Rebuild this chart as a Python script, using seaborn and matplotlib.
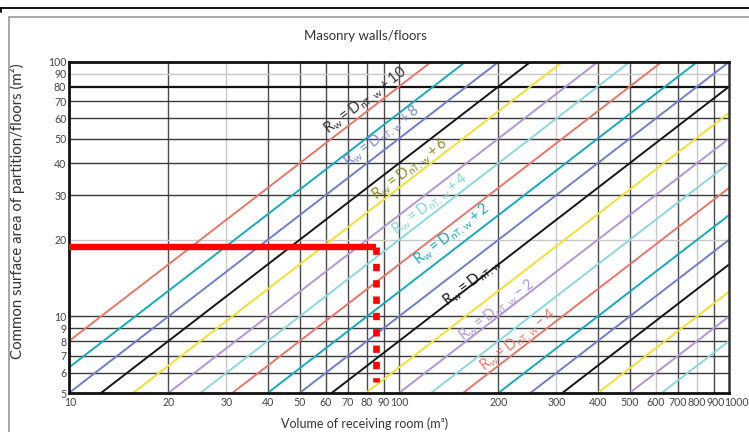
import numpy as np
import pandas as pd
import matplotlib
matplotlib.use("Agg")
import matplotlib.pyplot as plt
import matplotlib.ticker as mticker
import matplotlib.transforms as mtransforms
from matplotlib.lines import Line2D
from matplotlib.patches import Rectangle
import seaborn as sns

# data
offsets_db = [10, 9, 8, 7, 6, 5, 4, 3, 2, 1, 0, -1, -2, -3, -4, -5, -6, -7, -8, -9, -10]
volume_ends = [10, 1000]
area_at_10m3 = [8.0, 6.3, 5.0, 4.0, 3.2, 2.5, 2.0, 1.6, 1.25, 1.0, 0.8,
                0.63, 0.5, 0.4, 0.32, 0.25, 0.2, 0.16, 0.125, 0.1, 0.08]
area_at_1000m3 = [800, 630, 500, 400, 320, 250, 200, 160, 125, 100, 80,
                  63, 50, 40, 32, 25, 20, 16, 12.5, 10, 8.0]

line_cycle = ["#e2786c", "#1ba8b8", "#717ec6", "#151515", "#efe03a", "#b296d2", "#8ed6df"]

label_offsets = [10, 8, 6, 4, 2, 0, -2, -4]
label_volume = [79, 89, 108, 124, 145, 166, 198, 230]
label_area = [71, 51, 38, 27.7, 21.1, 13.7, 10.6, 8.1]
label_colors = ["#333333", "#7f8bd0", "#8c8a2a", "#86d3dc", "#1ba8b8", "#151515", "#b296d2", "#e2786c"]

x_ticks = [10, 20, 30, 40, 50, 60, 70, 80, 90, 100, 200, 300, 400, 500, 600, 700, 800, 900, 1000]
y_ticks = [5, 6, 7, 8, 9, 10, 20, 30, 40, 50, 60, 70, 80, 90, 100]
light_x = [30, 300, 600, 800]
light_y = [90, 20]

reading_volume = 85
reading_area = 18.7
reading_bottom = 5.5

rows = []
for d, a0, a1 in zip(offsets_db, area_at_10m3, area_at_1000m3):
    rows.append({"offset": d, "volume": volume_ends[0], "area": a0})
    rows.append({"offset": d, "volume": volume_ends[1], "area": a1})
lines_df = pd.DataFrame(rows)

sns.set_style("white")
plt.rcParams["font.family"] = ["Lato", "DejaVu Sans"]
plt.rcParams["mathtext.fontset"] = "custom"
plt.rcParams["mathtext.rm"] = "Lato"

fig = plt.figure(figsize=(7.49, 4.32), dpi=100)
ax = fig.add_axes([69 / 749, 1 - 393 / 432, 660 / 749, 331 / 432])

ax.set_xscale("log")
ax.set_yscale("log")
ax.set_xlim(10, 1000)
ax.set_ylim(5, 100)

# grid
for v in x_ticks[1:-1]:
    c = "#c8c8c8" if v in light_x else "#4a4a4a"
    ax.axvline(v, color=c, lw=1.0, zorder=1)
for v in y_ticks[1:-1]:
    c = "#c8c8c8" if v in light_y else "#3a3a3a"
    lw = 1.6 if v == 80 else 1.0
    ax.axhline(v, color=("#111111" if v == 80 else c), lw=lw, zorder=1)

palette = [line_cycle[i % 7] for i in range(len(offsets_db))]
sns.lineplot(data=lines_df, x="volume", y="area", hue="offset",
             hue_order=offsets_db, palette=palette, legend=False,
             lw=1.4, ax=ax, zorder=2)

# labels along lines
for d, v, a, c in zip(label_offsets, label_volume, label_area, label_colors):
    if d == 0:
        s = r"$\mathregular{R_w = D_{nT,w}}$"
    elif d > 0:
        s = r"$\mathregular{R_w = D_{nT,w} + %d}$" % d
    else:
        s = r"$\mathregular{R_w = D_{nT,w} - %d}$" % (-d)
    ax.text(v, a, s, color=c, fontsize=10.5, rotation=37.5,
            rotation_mode="anchor", ha="center", va="center", zorder=4)

# reading example
ax.plot([volume_ends[0], reading_volume], [reading_area, reading_area],
        color="#ff0000", lw=4.6, solid_capstyle="butt", zorder=5)
ax.plot([reading_volume, reading_volume], [reading_area, reading_bottom],
        color="#ff0000", lw=4.8, linestyle=(0, (1.1, 1.35)),
        dash_capstyle="butt", zorder=5)

ax.xaxis.set_major_locator(mticker.FixedLocator(x_ticks))
ax.yaxis.set_major_locator(mticker.FixedLocator(y_ticks))
ax.xaxis.set_minor_locator(mticker.NullLocator())
ax.yaxis.set_minor_locator(mticker.NullLocator())
ax.xaxis.set_major_formatter(mticker.FixedFormatter([str(v) for v in x_ticks]))
ax.yaxis.set_major_formatter(mticker.FixedFormatter([str(v) for v in y_ticks]))
ax.tick_params(length=0, labelsize=7.6, labelcolor="#444444", pad=3)
ax.tick_params(axis="y", pad=2)

# nudge the crowded end labels like the original
fig.canvas.draw()
xl = ax.get_xticklabels()
xl[-1].set_transform(xl[-1].get_transform() + mtransforms.ScaledTranslation(7 / 100, 0, fig.dpi_scale_trans))
xl[-2].set_transform(xl[-2].get_transform() + mtransforms.ScaledTranslation(1.5 / 100, 0, fig.dpi_scale_trans))
xl[0].set_transform(xl[0].get_transform() + mtransforms.ScaledTranslation(1 / 100, 0, fig.dpi_scale_trans))

for side in ["left", "bottom", "top"]:
    ax.spines[side].set_color("#111111")
    ax.spines[side].set_linewidth(2)
ax.spines["right"].set_color("#333333")
ax.spines["right"].set_linewidth(1.8)

ax.set_xlabel("Volume of receiving room (m³)", fontsize=9, color="#333333")
ax.xaxis.set_label_coords((365 - 69) / 660, -0.075)
ax.set_ylabel("Common surface area of partition/floors (m²)", fontsize=10.8, color="#333333")
ax.yaxis.set_label_coords(-0.066, 0.55)
fig.text(365 / 749, 1 - 36 / 432, "Masonry walls/floors", ha="center", va="center",
         fontsize=9.5, color="#333333")

# page frame
fig.add_artist(Line2D([0, 1], [1 - 7.5 / 432, 1 - 7.5 / 432], color="black", lw=1.3,
                      transform=fig.transFigure))
fig.add_artist(Line2D([0.5 / 749, 0.5 / 749], [1 - 8 / 432, 1 - 12 / 432], color="black", lw=1.3,
                      transform=fig.transFigure))
fig.add_artist(Rectangle((8.5 / 749, -0.1), 1.0, 1.1 - 17.5 / 432, fill=False,
                         edgecolor="#a0a0a0", lw=1.3, transform=fig.transFigure))

fig.savefig("out.png", dpi=100)
